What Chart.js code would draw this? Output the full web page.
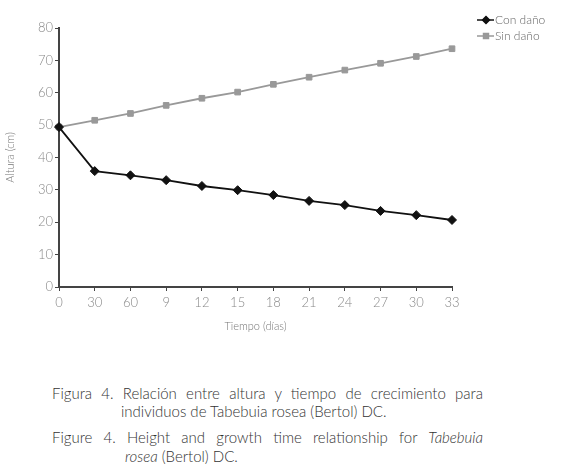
<!DOCTYPE html>
<html>
<head>
<meta charset="utf-8">
<script src="https://cdn.jsdelivr.net/npm/chart.js@4/dist/chart.umd.min.js"></script>
<style>
  body { margin: 0; background: #fff; width: 561px; height: 472px; overflow: hidden; position: relative; font-family: Lato, "Open Sans", sans-serif; }
  #wrap { position: absolute; left: 0; top: 0; width: 561px; height: 345px; }
  .cap { position: absolute; font-size: 15px; font-weight: 300; color: #333; white-space: nowrap; line-height: 18px; }
  .just { width: 431px; text-align: justify; text-align-last: justify; }
</style>
</head>
<body>
<div id="wrap"><canvas id="c"></canvas></div>
<div class="cap just" style="left:52px;top:384px">Figura 4. Relación entre altura y tiempo de crecimiento para</div>
<div class="cap" style="left:121px;top:402px">individuos de Tabebuia rosea (Bertol) DC.</div>
<div class="cap just" style="left:52px;top:428px">Figure 4. Height and growth time relationship for <i>Tabebuia</i></div>
<div class="cap" style="left:125px;top:447px"><i>rosea</i> (Bertol) DC.</div>
<script>
// Tiempo (días) — etiquetas tal como aparecen en el eje
const dias = ['0', '30', '60', '9', '12', '15', '18', '21', '24', '27', '30', '33'];
const conDano = [49.4, 35.8, 34.5, 33.0, 31.2, 29.9, 28.4, 26.6, 25.3, 23.5, 22.2, 20.7];
const sinDano = [49.4, 51.5, 53.6, 56.1, 58.3, 60.2, 62.6, 64.8, 67.0, 69.1, 71.2, 73.6];
const yTicks = [0, 10, 20, 30, 40, 50, 60, 70, 80];

const AXIS = '#444';
const LABEL = '#888';
const FONT = 'Lato, sans-serif';

// leyenda dibujada a mano en la esquina superior derecha
const sideLegend = {
  id: 'sideLegend',
  afterDraw(chart) {
    const ctx = chart.ctx;
    chart.data.datasets.forEach((ds, i) => {
      const y = 20 + i * 16;
      ctx.save();
      ctx.strokeStyle = ds.borderColor;
      ctx.lineWidth = 1.5;
      ctx.beginPath();
      ctx.moveTo(477, y);
      ctx.lineTo(494, y);
      ctx.stroke();
      Chart.helpers.drawPoint(ctx, { pointStyle: ds.pointStyle, radius: 3.5, borderWidth: 1 }, 486, y);
      ctx.fillStyle = ds.borderColor;
      ctx.fill();
      ctx.fillStyle = '#666';
      ctx.font = '300 12px ' + FONT;
      ctx.textBaseline = 'middle';
      ctx.fillText(ds.label, 495, y);
      ctx.restore();
    });
  },
};

new Chart(document.getElementById('c'), {
  type: 'line',
  data: {
    labels: dias,
    datasets: [
      { label: 'Con daño', data: conDano, borderColor: '#111', backgroundColor: '#111', borderWidth: 1.8,
        pointStyle: 'rectRot', pointRadius: 4.5, pointBorderWidth: 1, tension: 0 },
      { label: 'Sin daño', data: sinDano, borderColor: '#999', backgroundColor: '#999', borderWidth: 1.8,
        pointStyle: 'rect', pointRadius: 4, pointBorderWidth: 1, tension: 0 },
    ],
  },
  options: {
    responsive: true, maintainAspectRatio: false, animation: false,
    layout: { padding: { left: 0, top: 28, right: 109, bottom: 8 } },
    plugins: { legend: { display: false }, tooltip: { enabled: false } },
    scales: {
      x: {
        offset: false,
        grid: { drawOnChartArea: false, tickLength: 4, color: AXIS },
        border: { color: AXIS, width: 2 },
        ticks: { color: LABEL, font: { size: 13, family: FONT, weight: '300' }, padding: 4, maxRotation: 0, autoSkip: false },
        title: { display: true, text: 'Tiempo (días)', color: '#777', font: { size: 11, family: FONT, weight: '300' }, padding: 4 },
        afterFit(s) { s.height = 50; },
      },
      y: {
        min: 0, max: 80,
        afterBuildTicks(s) { s.ticks = yTicks.map((v) => ({ value: v })); },
        grid: { drawOnChartArea: false, tickLength: 4, color: AXIS },
        border: { color: AXIS, width: 2 },
        ticks: { color: LABEL, font: { size: 13, family: FONT, weight: '300' }, padding: 2 },
        title: { display: true, text: 'Altura (cm)', color: '#777', font: { size: 11, family: FONT, weight: '300' }, padding: 4 },
        afterFit(s) { s.width = 59; },
      },
    },
  },
  plugins: [sideLegend],
});
</script>
</body>
</html>
